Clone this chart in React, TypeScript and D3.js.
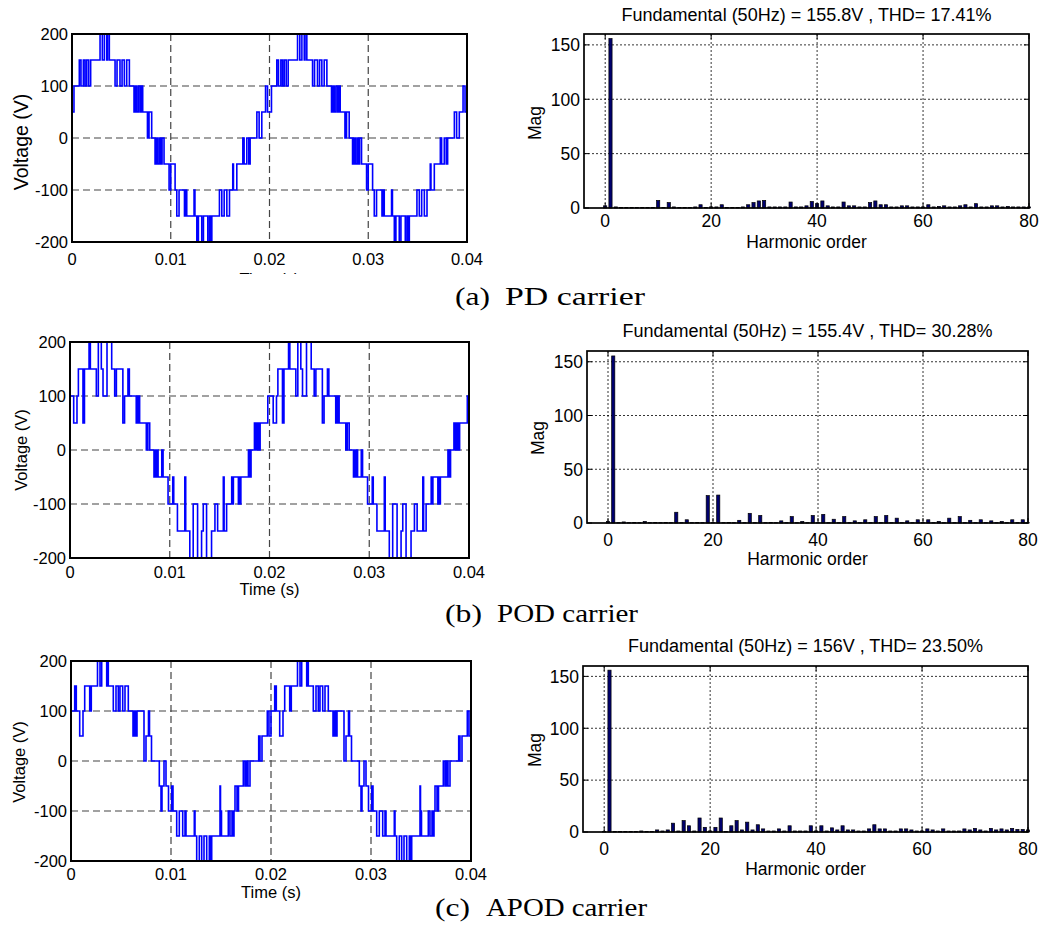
import React from "react";
import * as d3 from "d3";

// ---------- axis ticks ----------
const timeTicks = [0, 0.01, 0.02, 0.03, 0.04];
const timeTickLabels = ["0", "0.01", "0.02", "0.03", "0.04"];
const voltTicks = [-200, -100, 0, 100, 200];
const harmTicks = [0, 20, 40, 60, 80];
const magTicks = [0, 50, 100, 150];

// ---------- output voltage, one 20 ms fundamental cycle: [time (ms), level (V)] ----------
// (the reference waveform repeats identically in both plotted cycles)
const pdSteps: [number, number][] = [
  [0, 50], [0.2, 100],
  [0.74, 150], [0.91, 100], [1.15, 150], [1.32, 100], [1.49, 150], [1.69, 100], [1.89, 150],
  [2.84, 200], [3.07, 150], [3.28, 200], [3.52, 150], [3.6, 200], [3.78, 150],
  [4.36, 100], [4.56, 150], [4.86, 100], [5.07, 150], [5.3, 100], [5.54, 150], [5.81, 100],
  [6.28, 50], [6.42, 100], [6.55, 50], [6.72, 100], [6.89, 50], [7.0, 100], [7.16, 50],
  [7.64, 0], [7.8, 50], [8.07, 0],
  [8.41, -50], [8.55, 0], [8.68, -50], [8.85, 0], [8.99, -50], [9.12, 0], [9.32, -50],
  [9.83, -100], [10.0, -50], [10.44, -100],
  [10.61, -150], [10.84, -100], [11.39, -150], [11.55, -100], [11.62, -150],
  [12.36, -100], [12.45, -150],
  [12.64, -200], [12.8, -150], [13.14, -200], [13.31, -150], [13.75, -200], [13.92, -150], [14.0, -200], [14.16, -150],
  [14.93, -100], [15.17, -150], [15.41, -100], [15.68, -150], [15.95, -100],
  [16.28, -50], [16.35, -100], [16.69, -50],
  [17.3, 0], [17.43, -50], [17.7, 0], [17.9, -50], [18.04, 0],
  [18.72, 50], [18.95, 0], [19.22, 50],
  [19.6, 100], [19.8, 50],
];

const podSteps: [number, number][] = [
  [0, 100], [0.37, 50], [0.7, 100], [0.84, 150], [1.3, 50], [1.45, 150],
  [1.91, 200], [2.04, 150], [2.64, 100], [2.84, 200], [3.14, 150], [3.31, 100], [3.71, 200], [4.18, 150],
  [4.48, 100], [4.65, 150], [5.3, 50], [5.47, 100], [5.81, 150], [5.95, 100],
  [6.64, 50], [6.72, 100], [6.81, 50], [6.9, 100], [6.98, 50],
  [7.65, 0], [7.8, 50], [7.99, 0],
  [8.42, -50], [8.5, 0], [8.56, -50], [8.62, 0], [8.66, -50], [8.75, 0], [8.83, -50], [9.2, 0], [9.33, -50],
  [9.83, -100], [10.3, -50], [10.4, -100], [10.77, -150], [11.51, -50], [11.6, -150],
  [12.01, -200], [12.35, -100], [12.79, -200], [13.19, -150], [13.36, -100], [13.69, -200], [14.19, -150],
  [14.53, -100], [14.8, -150], [15.37, -50], [15.45, -150], [15.7, -100],
  [16.21, -50], [16.3, -100], [16.38, -50], [16.88, -100], [16.95, -50], [17.05, -100], [17.13, -50],
  [17.89, 0], [18.0, -50], [18.15, 0],
  [18.49, 50], [18.57, 0], [18.66, 50], [18.75, 0], [18.83, 50], [18.95, 0], [19.06, 50],
  [19.83, 100],
];

const apodSteps: [number, number][] = [
  [0, 100], [0.37, 150], [0.53, 100], [0.87, 50], [1.2, 100], [1.37, 150], [1.87, 100], [2.03, 150],
  [2.65, 200], [2.9, 150], [3.07, 200], [3.57, 150], [3.62, 200], [3.73, 150],
  [4.23, 100], [4.5, 150], [4.73, 100], [4.9, 150], [5.17, 100], [5.4, 150], [5.73, 100],
  [6.2, 50], [6.28, 100], [6.36, 50], [6.45, 100], [6.52, 50], [6.6, 100],
  [7.3, 0], [7.5, 50], [7.75, 100], [7.85, 50], [8.05, 0],
  [8.83, -50], [9.0, -100], [9.1, -50], [9.3, 0], [9.5, -50], [9.75, -100], [10.07, -50], [10.2, -100],
  [10.57, -150], [10.83, -100], [11.17, -150], [11.4, -100], [11.5, -150], [12.33, -100], [12.4, -150],
  [12.57, -200], [12.83, -150], [13.07, -200], [13.3, -150], [13.57, -200], [13.83, -150], [13.95, -200], [14.07, -150],
  [14.9, -50], [14.95, -100], [15.05, -150], [15.73, -100], [15.9, -150], [16.1, -100], [16.23, -150],
  [16.3, -100], [16.4, -50], [16.6, -100], [16.75, -50],
  [17.23, 0], [17.4, -50], [17.55, 0], [17.7, -50], [17.9, 0],
  [18.77, 50], [18.9, 0], [19.1, 50], [19.63, 100], [19.8, 50],
];

// ---------- harmonic spectra, orders 0..80 ----------
const pdMag = [
  2, 155.8, 1, 0.5, 0.5, 0.5, 0.5, 0.5, 0.5, 0.5,
  7, 0.5, 5, 1, 0.5, 0.5, 0.5, 1, 3, 0.5,
  1, 1, 3, 0.5, 0.5, 0.5, 1, 3, 5, 6.5,
  7, 1, 1, 1, 1, 5.5, 1, 1, 2, 6,
  4, 6.5, 2, 1, 1, 5.5, 2, 2, 1, 1,
  5, 6.5, 3, 3, 1, 1, 2, 2, 1, 1,
  1, 3, 1, 1.5, 2, 1, 1, 2, 3, 1,
  4, 1, 1, 2, 2, 1, 1.5, 1, 1, 1,
  1,
];
const podMag = [
  1.5, 155.4, 0.3, 1, 0.3, 0.5, 0.3, 1.5, 0.3, 0.5,
  0.3, 0.5, 0.3, 10, 0.3, 3, 0.3, 0.5, 0.3, 25.5,
  0.3, 26, 0.3, 0.5, 0.3, 2.5, 0.3, 9, 0.3, 7,
  0.3, 0.5, 0.3, 2, 0.3, 6, 0.3, 1.5, 0.3, 7,
  0.3, 8, 0.3, 3.5, 0.3, 6, 0.3, 2, 0.3, 3,
  0.3, 6, 0.3, 7, 0.3, 4.5, 0.3, 2, 0.3, 3,
  0.3, 3, 0.3, 1.5, 0.3, 4.5, 0.3, 6, 0.3, 2.5,
  0.3, 3, 0.3, 2, 0.3, 1.5, 0.3, 3, 0.3, 3,
  0.3,
];
const apodMag = [
  0.5, 156, 0.5, 0.5, 0.5, 0.5, 0.5, 1, 0.5, 0.5,
  2, 1, 2, 8.5, 1, 11, 6, 1, 13.5, 4.5,
  1, 4.5, 13.5, 0.5, 6, 11, 2, 9.5, 2, 7,
  3, 1, 1, 3, 1, 6, 1, 1, 1, 6,
  1, 6, 1, 4, 2, 6, 2, 2, 1, 1,
  3, 7, 3, 3, 1, 1, 3, 3, 2, 1,
  1, 3, 2, 1, 3, 1, 1, 1, 3, 2,
  3.5, 2, 1, 3.5, 2, 3, 2, 3.5, 2.5, 2.5,
  2,
];

const titles = [
  "Fundamental (50Hz) = 155.8V , THD= 17.41%",
  "Fundamental (50Hz) = 155.4V , THD= 30.28%",
  "Fundamental (50Hz) = 156V , THD= 23.50%",
];
const captionTags = ["(a)", "(b)", "(c)"];
const captionNames = ["PD carrier", "POD carrier", "APOD carrier"];

const SANS = "'Liberation Sans', Arial, Helvetica, sans-serif";
const SERIF = "'Liberation Serif', 'Times New Roman', serif";

type Box = { x0: number; x1: number; y0: number; y1: number };

function WavePanel(props: {
  id: string;
  steps: [number, number][];
  box: Box;
  xTickBase: number;
  vLabel: { x: number; y: number; size: number };
  timeBase: number;
  hideTimeBelow?: number;
}) {
  const { id, steps, box, xTickBase, vLabel, timeBase } = props;
  const x = d3.scaleLinear().domain([0, 0.04]).range([box.x0, box.x1]);
  const y = d3.scaleLinear().domain([-200, 200]).range([box.y1, box.y0]);
  const pts: [number, number][] = [[0, 0]];
  for (let c = 0; c < 2; c++) for (const [t, v] of steps) pts.push([(c * 20 + t) / 1000, v]);
  pts.push([0.04, pts[pts.length - 1][1]]);
  const line = d3
    .line<[number, number]>()
    .x((d) => x(d[0]))
    .y((d) => y(d[1]))
    .curve(d3.curveStepAfter);
  const fs = 16.5;
  return (
    <g>
      <defs>
        <clipPath id={id}>
          <rect x={box.x0} y={box.y0 - 1} width={box.x1 - box.x0} height={box.y1 - box.y0 + 2} />
        </clipPath>
      </defs>
      <rect x={box.x0} y={box.y0} width={box.x1 - box.x0} height={box.y1 - box.y0} fill="#fff" />
      {timeTicks.slice(1, -1).map((t) => (
        <line key={"gx" + t} x1={x(t)} x2={x(t)} y1={box.y0} y2={box.y1} stroke="#444" strokeWidth={1.2} strokeDasharray="7 4" />
      ))}
      {voltTicks.slice(1, -1).map((v) => (
        <line key={"gy" + v} x1={box.x0} x2={box.x1} y1={y(v)} y2={y(v)} stroke="#444" strokeWidth={1.2} strokeDasharray="7 4" />
      ))}
      <path d={line(pts) || ""} fill="none" stroke="#0000ff" strokeWidth={1.6} clipPath={`url(#${id})`} />
      <rect x={box.x0} y={box.y0} width={box.x1 - box.x0} height={box.y1 - box.y0} fill="none" stroke="#000" strokeWidth={2} />
      {voltTicks.map((v) => (
        <text key={"ty" + v} x={box.x0 - 4} y={y(v)} dy="0.36em" textAnchor="end" fontFamily={SANS} fontSize={fs}>
          {v}
        </text>
      ))}
      {timeTicks.map((t, i) => (
        <text key={"tx" + t} x={x(t)} y={xTickBase} textAnchor="middle" fontFamily={SANS} fontSize={fs}>
          {timeTickLabels[i]}
        </text>
      ))}
      <text
        transform={`translate(${vLabel.x},${vLabel.y}) rotate(-90)`}
        dy="0.36em"
        textAnchor="middle"
        fontFamily={SANS}
        fontSize={vLabel.size}
      >
        Voltage (V)
      </text>
      <text x={(box.x0 + box.x1) / 2} y={timeBase} textAnchor="middle" fontFamily={SANS} fontSize={fs}>
        Time (s)
      </text>
      {props.hideTimeBelow !== undefined && (
        <rect x={box.x0} y={props.hideTimeBelow} width={box.x1 - box.x0} height={14} fill="#fff" />
      )}
    </g>
  );
}

function SpectrumPanel(props: {
  mags: number[];
  box: Box;
  title: string;
  titleBase: number;
  xTickBase: number;
  xLabelBase: number;
  magLabel: { x: number; y: number };
}) {
  const { mags, box, title, titleBase, xTickBase, xLabelBase, magLabel } = props;
  const x = d3.scaleLinear().domain([-4, 80]).range([box.x0, box.x1]);
  const y = d3.scaleLinear().domain([0, 160]).range([box.y1, box.y0]);
  const bw = x(0.6) - x(0);
  const fs = 17.5;
  const tl = 5;
  return (
    <g>
      <rect x={box.x0} y={box.y0} width={box.x1 - box.x0} height={box.y1 - box.y0} fill="#fff" />
      {harmTicks.slice(0, -1).map((h) => (
        <line key={"gx" + h} x1={x(h)} x2={x(h)} y1={box.y0} y2={box.y1} stroke="#000" strokeWidth={0.8} strokeDasharray="2 2" />
      ))}
      {magTicks.slice(1).map((m) => (
        <line key={"gy" + m} x1={box.x0} x2={box.x1} y1={y(m)} y2={y(m)} stroke="#000" strokeWidth={0.8} strokeDasharray="2 2" />
      ))}
      {mags.map((m, h) => (
        <rect
          key={"b" + h}
          x={x(h) - bw / 2}
          y={y(m)}
          width={bw}
          height={Math.max(0, y(0) - y(m))}
          fill="#00006e"
          stroke="#000"
          strokeWidth={0.7}
        />
      ))}
      {harmTicks.map((h) => (
        <g key={"tk" + h}>
          <line x1={x(h)} x2={x(h)} y1={box.y1} y2={box.y1 - tl} stroke="#000" />
          <line x1={x(h)} x2={x(h)} y1={box.y0} y2={box.y0 + tl} stroke="#000" />
        </g>
      ))}
      {magTicks.map((m) => (
        <g key={"tm" + m}>
          <line x1={box.x0} x2={box.x0 + tl} y1={y(m)} y2={y(m)} stroke="#000" />
          <line x1={box.x1} x2={box.x1 - tl} y1={y(m)} y2={y(m)} stroke="#000" />
        </g>
      ))}
      <rect x={box.x0} y={box.y0} width={box.x1 - box.x0} height={box.y1 - box.y0} fill="none" stroke="#000" strokeWidth={1.7} />
      {magTicks.map((m) => (
        <text key={"ty" + m} x={box.x0 - 4} y={y(m)} dy="0.36em" textAnchor="end" fontFamily={SANS} fontSize={fs}>
          {m}
        </text>
      ))}
      {harmTicks.map((h) => (
        <text key={"tx" + h} x={x(h)} y={xTickBase} textAnchor="middle" fontFamily={SANS} fontSize={fs}>
          {h}
        </text>
      ))}
      <text x={(box.x0 + box.x1) / 2} y={xLabelBase} textAnchor="middle" fontFamily={SANS} fontSize={fs}>
        Harmonic order
      </text>
      <text
        transform={`translate(${magLabel.x},${magLabel.y}) rotate(-90)`}
        dy="0.36em"
        textAnchor="middle"
        fontFamily={SANS}
        fontSize={fs}
      >
        Mag
      </text>
      <text x={(box.x0 + box.x1) / 2} y={titleBase} textAnchor="middle" fontFamily={SANS} fontSize={18}>
        {title}
      </text>
    </g>
  );
}

function Caption(props: { tag: string; name: string; x: number; tagW: number; x2: number; nameW: number; y: number }) {
  return (
    <g fontFamily={SERIF} fontSize={25}>
      <text x={props.x} y={props.y} textLength={props.tagW} lengthAdjust="spacingAndGlyphs">
        {props.tag}
      </text>
      <text x={props.x2} y={props.y} textLength={props.nameW} lengthAdjust="spacingAndGlyphs">
        {props.name}
      </text>
    </g>
  );
}

export default function App() {
  return (
    <div style={{ position: "absolute", left: 0, top: 0 }}>
      <svg width={1052} height={943} viewBox="0 0 1052 943" style={{ display: "block", background: "#fff" }}>
        <rect x={0} y={0} width={1052} height={943} fill="#fff" />
        <WavePanel
          id="w1"
          steps={pdSteps}
          box={{ x0: 72, x1: 467, y0: 34, y1: 242 }}
          xTickBase={265}
          vLabel={{ x: 21, y: 142, size: 19.5 }}
          timeBase={285}
          hideTimeBelow={274}
        />
        <SpectrumPanel
          mags={pdMag}
          box={{ x0: 584, x1: 1029, y0: 34, y1: 208 }}
          title={titles[0]}
          titleBase={21}
          xTickBase={227}
          xLabelBase={248}
          magLabel={{ x: 535, y: 123 }}
        />
        <Caption tag={captionTags[0]} name={captionNames[0]} x={455} tagW={35} x2={505} nameW={140} y={305} />

        <WavePanel
          id="w2"
          steps={podSteps}
          box={{ x0: 70, x1: 469, y0: 342, y1: 558 }}
          xTickBase={578}
          vLabel={{ x: 21, y: 450, size: 16.5 }}
          timeBase={595}
        />
        <SpectrumPanel
          mags={podMag}
          box={{ x0: 587, x1: 1028, y0: 351, y1: 523 }}
          title={titles[1]}
          titleBase={337}
          xTickBase={546}
          xLabelBase={565}
          magLabel={{ x: 538, y: 438 }}
        />
        <Caption tag={captionTags[1]} name={captionNames[1]} x={445} tagW={37} x2={497} nameW={141} y={622} />

        <WavePanel
          id="w3"
          steps={apodSteps}
          box={{ x0: 71, x1: 471, y0: 661, y1: 861 }}
          xTickBase={880}
          vLabel={{ x: 19, y: 762, size: 16.5 }}
          timeBase={898}
        />
        <SpectrumPanel
          mags={apodMag}
          box={{ x0: 583, x1: 1028, y0: 666, y1: 832 }}
          title={titles[2]}
          titleBase={652}
          xTickBase={855}
          xLabelBase={875}
          magLabel={{ x: 535, y: 750 }}
        />
        <Caption tag={captionTags[2]} name={captionNames[2]} x={435} tagW={35} x2={486} nameW={161} y={916} />
      </svg>
    </div>
  );
}
